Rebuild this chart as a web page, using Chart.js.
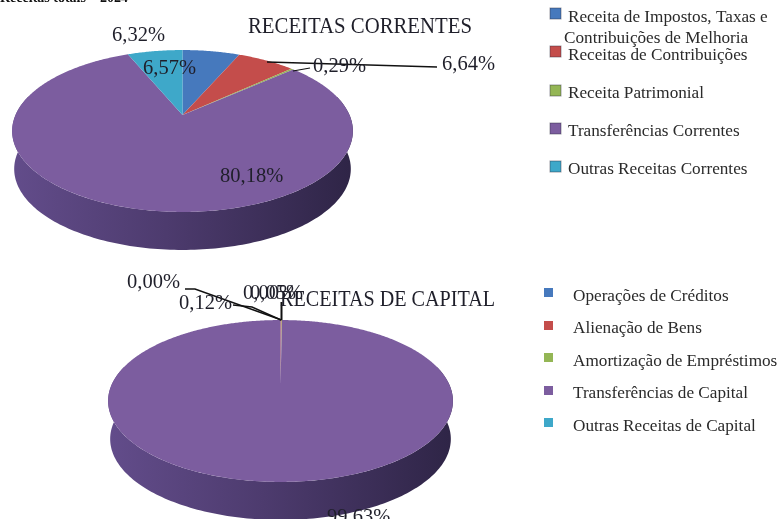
<!DOCTYPE html>
<html>
<head>
<meta charset="utf-8">
<script src="https://cdn.jsdelivr.net/npm/chart.js@4"></script>
<style>
  html, body { margin: 0; padding: 0; background: #fff; overflow: hidden; }
  #wrap { position: relative; width: 777px; height: 519px; overflow: hidden; filter: blur(0.55px); }
  canvas { position: absolute; left: 0; }
</style>
</head>
<body>
<div id="wrap">
  <canvas id="correntes" width="777" height="260" style="top:0"></canvas>
  <canvas id="capital" width="777" height="259" style="top:260px"></canvas>
</div>
<script>
const correntesLabels = ['Receita de Impostos, Taxas e\nContribuições de Melhoria', 'Receitas de Contribuições', 'Receita Patrimonial', 'Transferências Correntes', 'Outras Receitas Correntes'];
const correntesValues = [6.57, 6.64, 0.29, 80.18, 6.32];

const capitalLabels = ['Operações de Créditos', 'Alienação de Bens', 'Amortização de Empréstimos', 'Transferências de Capital', 'Outras Receitas de Capital'];
const capitalValues = [0.00, 0.12, 0.05, 99.63, 0.00];

const sliceColors = ['#4679bd', '#c44d4b', '#94b655', '#7c5d9f', '#3ea8c9'];
const SERIF = '"Liberation Serif", serif';
const INK = '#1f1f2a';

// percent text for a slice, the way the source writes it
function pct(v) {
  return v.toFixed(2).replace('.', ',') + '%';
}

// the pie is seen from above, so the centre is not in the middle of the ellipse
const TILT = 0.1975;
function project(g, angle) {
  const u = Math.cos(angle);
  const v = -Math.sin(angle);
  const w = 1 + TILT * v;
  return [g.cx + g.a * u / w, g.cy - g.b * v / w];
}

const tiltedPie = {
  id: 'tiltedPie',
  beforeDatasetsDraw(chart, args, opts) {
    const ctx = chart.ctx;
    const g = opts.geometry;
    const arcs = chart.getDatasetMeta(0).data;

    // side wall, front half only
    const grad = ctx.createLinearGradient(g.cx - g.a, 0, g.cx + g.a, 0);
    grad.addColorStop(0, '#624c8a');
    grad.addColorStop(0.45, '#4d3b6e');
    grad.addColorStop(1, '#2f2547');
    ctx.save();
    ctx.fillStyle = grad;
    ctx.beginPath();
    for (let a = -0.25; a <= Math.PI + 0.25; a += 0.02) {
      const p = project(g, a);
      ctx.lineTo(p[0], p[1]);
    }
    for (let a = Math.PI + 0.25; a >= -0.25; a -= 0.02) {
      const p = project(g, a);
      const k = 1 - 0.012;
      ctx.lineTo(g.cx + (p[0] - g.cx) * k, p[1] + g.depth);
    }
    ctx.closePath();
    ctx.fill();

    // top face, angles come from the pie controller
    arcs.forEach(function (arc) {
      if (arc.endAngle - arc.startAngle <= 0) return;
      ctx.fillStyle = arc.options.backgroundColor;
      ctx.beginPath();
      ctx.moveTo(g.cx, g.cy);
      const steps = Math.max(2, Math.ceil((arc.endAngle - arc.startAngle) / 0.01));
      for (let i = 0; i <= steps; i++) {
        const p = project(g, arc.startAngle + (arc.endAngle - arc.startAngle) * i / steps);
        ctx.lineTo(p[0], p[1]);
      }
      ctx.closePath();
      ctx.fill();
    });
    ctx.restore();
    return false;
  },
  afterDraw(chart, args, opts) {
    const ctx = chart.ctx;
    ctx.save();
    ctx.textBaseline = 'alphabetic';
    ctx.textAlign = 'left';

    // leader lines
    ctx.strokeStyle = '#111';
    opts.leaders.forEach(function (l) {
      ctx.lineWidth = l.w;
      ctx.beginPath();
      l.pts.forEach(function (p) { ctx.lineTo(p[0], p[1]); });
      ctx.stroke();
    });

    ctx.fillStyle = INK;
    ctx.font = opts.titleSize + 'px ' + SERIF;
    ctx.fillText(opts.title, opts.titlePos[0], opts.titlePos[1], opts.titleWidth);

    ctx.font = '20.5px ' + SERIF;
    chart.data.datasets[0].data.forEach(function (v, i) {
      const p = opts.valuePos[i];
      ctx.fillText(pct(v), p[0], p[1]);
    });

    // legend
    chart.data.labels.forEach(function (label, i) {
      const s = opts.swatches[i];
      ctx.fillStyle = sliceColors[i];
      ctx.fillRect(s[0], s[1], s[2], s[2]);
      if (opts.swatchEdge) {
        ctx.strokeStyle = 'rgba(40,40,60,0.45)';
        ctx.lineWidth = 1;
        ctx.strokeRect(s[0], s[1], s[2], s[2]);
      }
      ctx.fillStyle = '#2a2a2a';
      ctx.font = opts.legendSize + 'px ' + SERIF;
      label.split('\n').forEach(function (line, j) {
        const t = opts.legendText[i][j];
        ctx.fillText(line, t[0], t[1]);
      });
    });
    ctx.restore();
  }
};

function makePie(id, labels, values, settings) {
  return new Chart(document.getElementById(id).getContext('2d'), {
    type: 'pie',
    data: {
      labels: labels,
      datasets: [{ data: values, backgroundColor: sliceColors, borderWidth: 0 }]
    },
    options: {
      responsive: false,
      animation: false,
      plugins: {
        legend: { display: false },
        tooltip: { enabled: false },
        tiltedPie: settings
      }
    },
    plugins: [tiltedPie]
  });
}

makePie('correntes', correntesLabels, correntesValues, {
  geometry: { cx: 182.5, cy: 115, a: 167, b: 77.8, depth: 38 },
  title: 'RECEITAS CORRENTES',
  titlePos: [248, 33],
  titleSize: 22.5,
  titleWidth: 224,
  valuePos: [[143, 74], [442, 70], [313, 72], [220, 182], [112, 41]],
  leaders: [
    { w: 1.5, pts: [[267, 62], [437, 67]] },
    { w: 1.2, pts: [[293, 71], [310, 68]] }
  ],
  swatches: [[550, 8, 11], [550, 46, 11], [550, 85, 11], [550, 123, 11], [550, 161, 11]],
  swatchEdge: true,
  legendSize: 17.2,
  legendText: [[[568, 22], [564, 43]], [[568, 60]], [[568, 98]], [[568, 136]], [[568, 174]]]
});

makePie('capital', capitalLabels, capitalValues, {
  geometry: { cx: 280.5, cy: 125, a: 169, b: 77.8, depth: 38 },
  title: 'RECEITAS DE CAPITAL',
  titlePos: [280, 46],
  titleSize: 22.5,
  titleWidth: 215,
  valuePos: [[127, 28], [179, 49], [250, 39], [327, 263], [243, 39]],
  leaders: [
    { w: 1.4, pts: [[185, 29], [195, 29], [281.5, 60]] },
    { w: 1.4, pts: [[233, 45], [252, 47], [281, 60]] },
    { w: 2, pts: [[281.5, 42], [281.5, 60]] }
  ],
  swatches: [[544, 28, 9], [544, 61, 9], [544, 93, 9], [544, 126, 9], [544, 158, 9]],
  swatchEdge: false,
  legendSize: 17.2,
  legendText: [[[573, 41]], [[573, 73]], [[573, 106]], [[573, 138]], [[573, 171]]]
});

// page heading cut off by the top edge of the picture
const headCtx = document.getElementById('correntes').getContext('2d');
headCtx.fillStyle = '#111';
headCtx.font = 'bold 14px ' + SERIF;
headCtx.fillText('Receitas totais – 2024', 0, 2);
</script>
</body>
</html>
